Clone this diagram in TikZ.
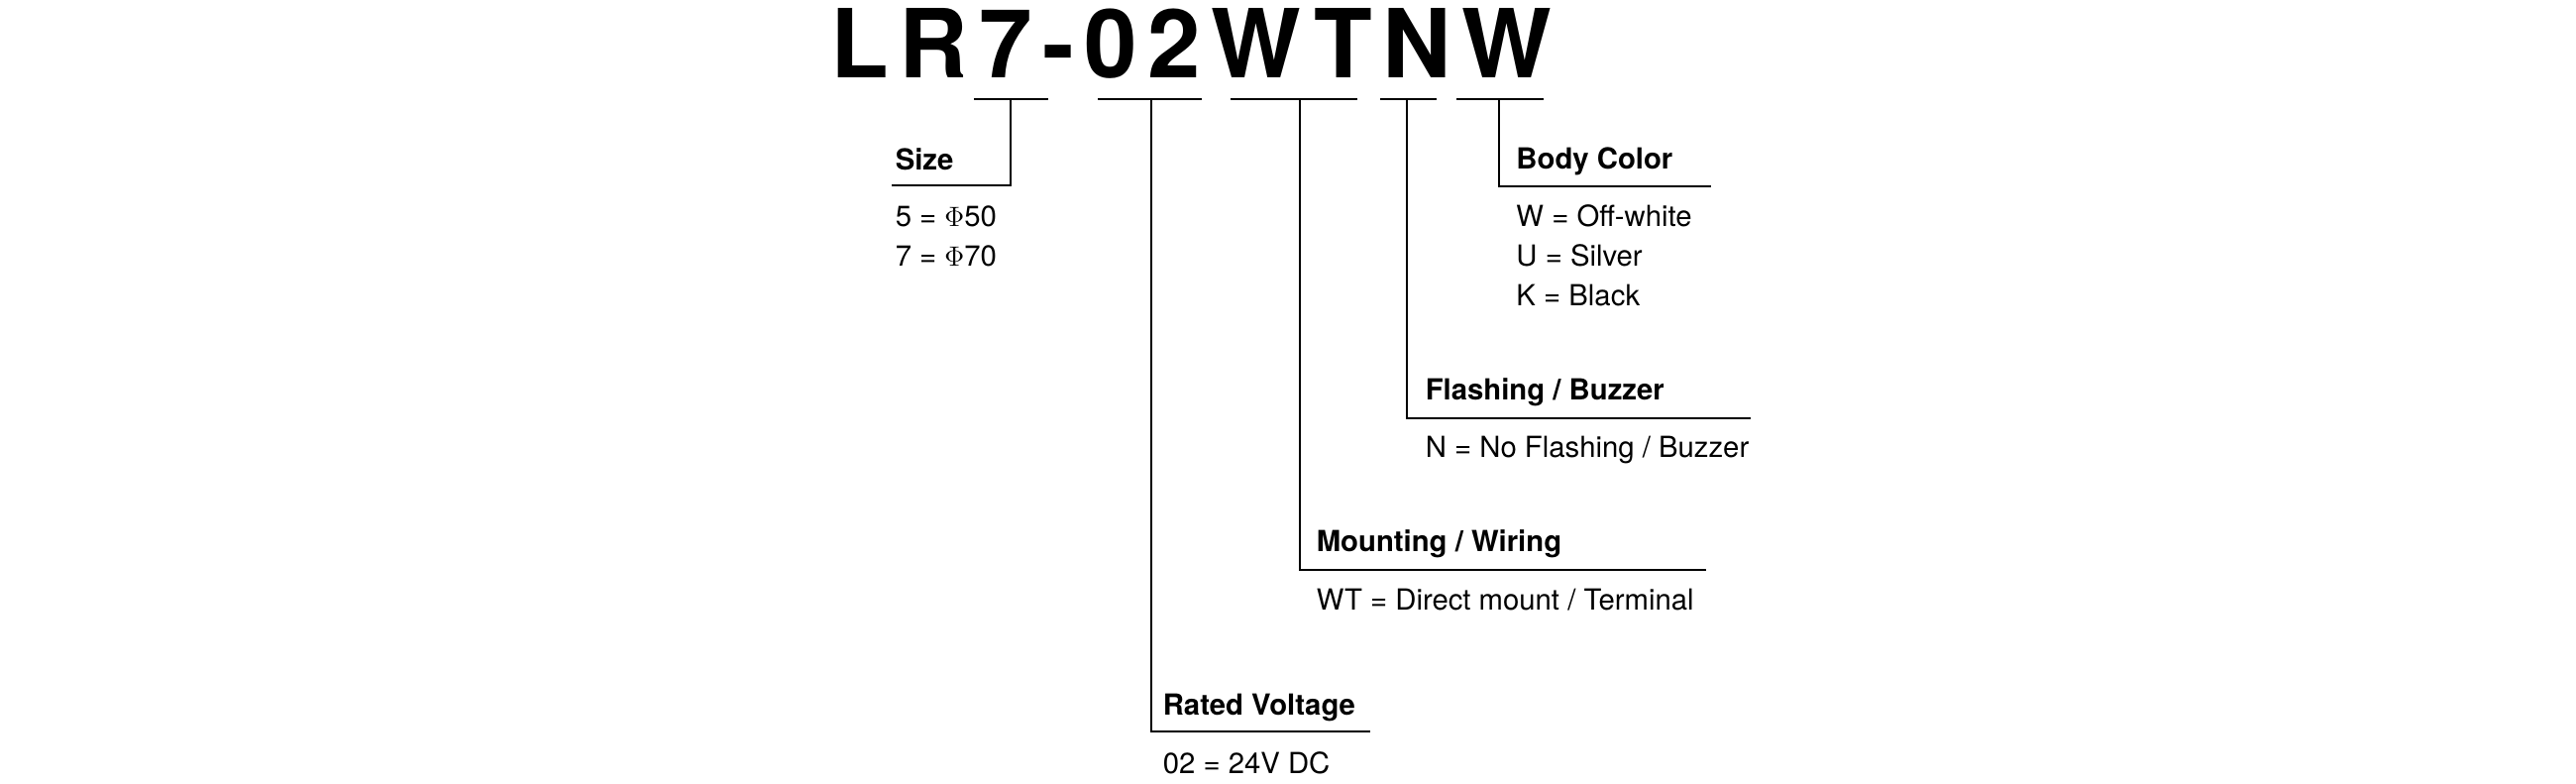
\documentclass[tikz,border=0pt]{standalone}
\usepackage{fontspec}
\setmainfont{TeX Gyre Heros}
\usetikzlibrary{positioning}
\tikzset{
  head/.style={anchor=base west,inner sep=0pt,font=\fontsize{12.5}{14}\selectfont\bfseries},
  val/.style={anchor=base west,inner sep=0pt,font=\fontsize{12.5}{14}\selectfont},
  lead/.style={line width=0.9pt}
}
\begin{document}
\begin{tikzpicture}[x=0.025cm,y=-0.025cm]
  \useasboundingbox (0,0) rectangle (1560,474);
  \node[inner sep=0pt,anchor=base west,font=\fontsize{41}{41}\selectfont\bfseries\addfontfeature{LetterSpace=11}] (code) at (503,47) {LR7-02WTNW};
  % underlines
  \coordinate (s1) at (590,60); \coordinate (s2) at (635,60);
  \coordinate (v1) at (665,60); \coordinate (v2) at (728,60);
  \coordinate (m1) at (745,60); \coordinate (m2) at (822,60);
  \coordinate (f1) at (836,60); \coordinate (f2) at (870,60);
  \coordinate (b1) at (882,60); \coordinate (b2) at (935,60);
  \foreach \a in {s,v,m,f,b} \draw[lead] (\a1) -- (\a2);
  % leaders
  \coordinate (sz) at (612,60); \coordinate (szc) at (612,112); \coordinate (sze) at (540,112);
  \coordinate (rv) at (697,60); \coordinate (rvc) at (697,443); \coordinate (rve) at (830,443);
  \coordinate (mw) at (787,60); \coordinate (mwc) at (787,345); \coordinate (mwe) at (1033,345);
  \coordinate (fb) at (852,60); \coordinate (fbc) at (852,253); \coordinate (fbe) at (1060,253);
  \coordinate (bc) at (908,60); \coordinate (bcc) at (908,113); \coordinate (bce) at (1036,113);
  \draw[lead] (sz) -- (szc) -- (sze);
  \draw[lead] (rv) -- (rvc) -- (rve);
  \draw[lead] (mw) -- (mwc) -- (mwe);
  \draw[lead] (fb) -- (fbc) -- (fbe);
  \draw[lead] (bc) -- (bcc) -- (bce);
  % labels
  \node[head] (size) at (542,103) {Size};
  \node[val] (size5) at (542,137) {5 = $\Phi$50};
  \node[val] (size7) at (542,161) {7 = $\Phi$70};
  \node[head] (body) at (918,102) {Body Color};
  \node[val] (bodyw) at (918,137) {W = Off-white};
  \node[val] (bodyu) at (918,161) {U = Silver};
  \node[val] (bodyk) at (918,185) {K = Black};
  \node[head] (flash) at (863,242) {Flashing / Buzzer};
  \node[val] (flashv) at (863,277) {N = No Flashing / Buzzer};
  \node[head] (mount) at (797,334) {Mounting / Wiring};
  \node[val] (mountv) at (797,369) {WT = Direct mount / Terminal};
  \node[head] (volt) at (704,433) {Rated Voltage};
  \node[val] (voltv) at (704,468) {02 = 24V DC};
\end{tikzpicture}
\end{document}
